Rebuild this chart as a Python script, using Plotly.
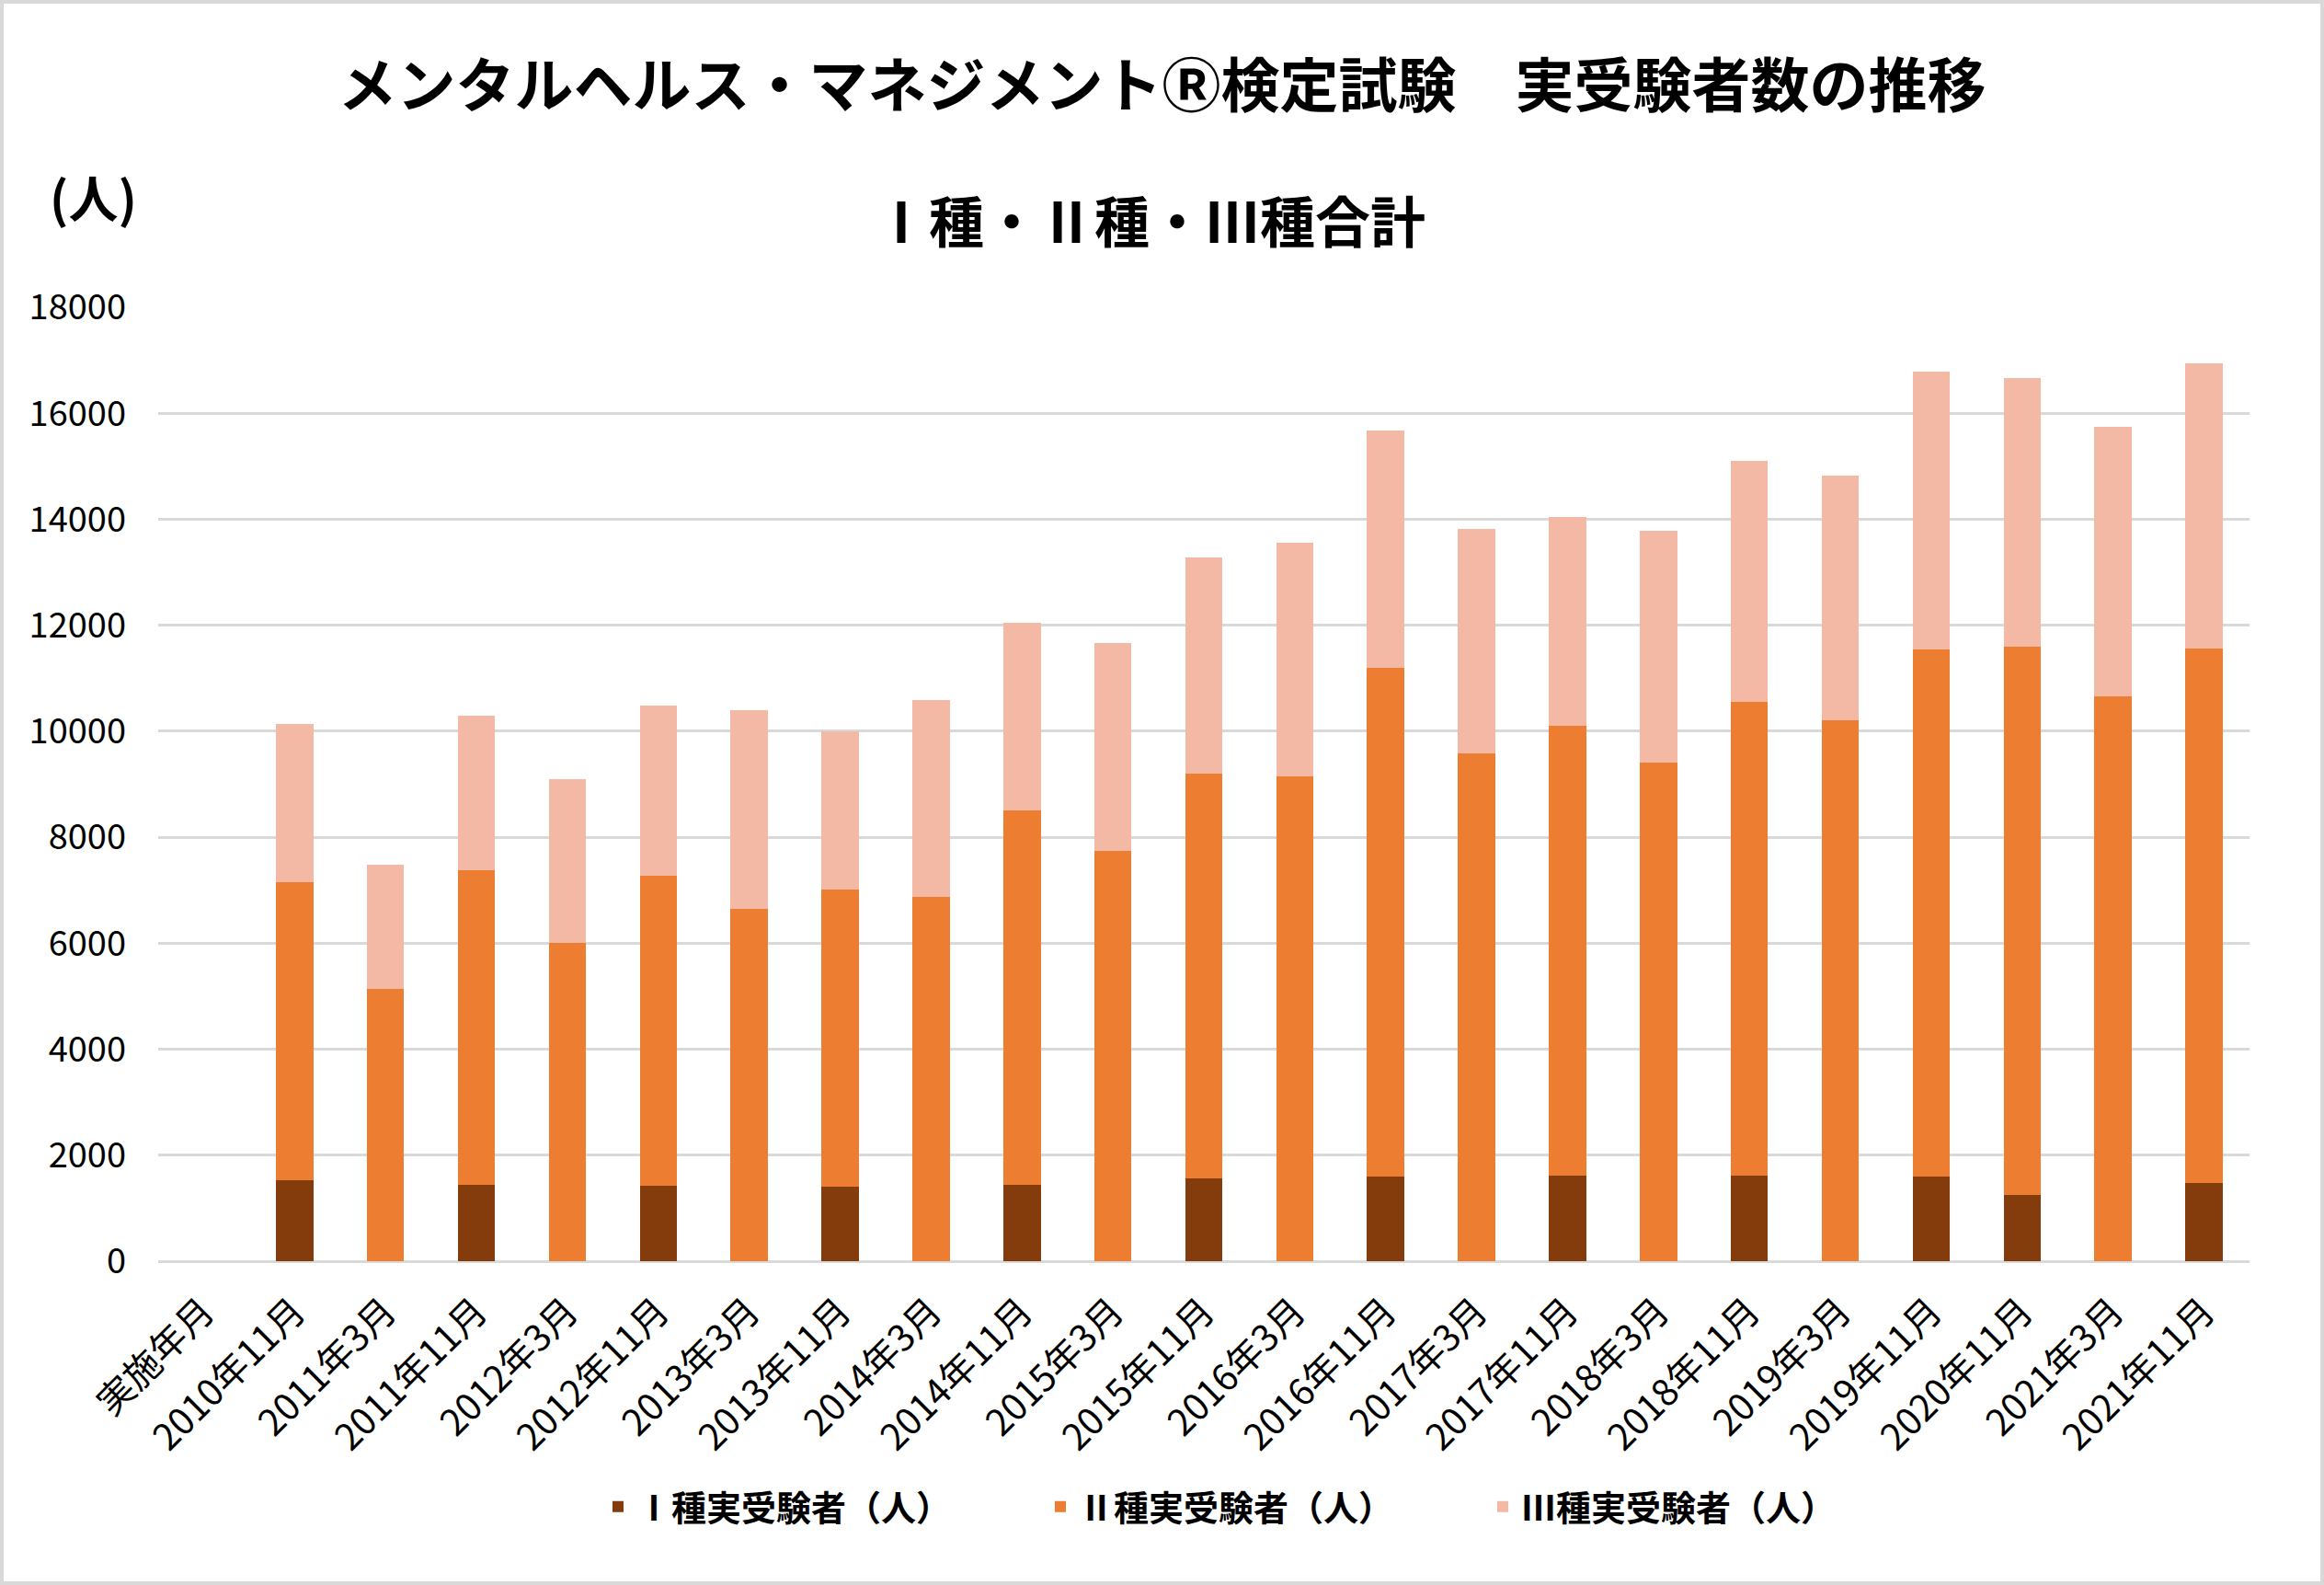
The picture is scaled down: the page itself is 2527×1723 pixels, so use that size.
import plotly.graph_objects as go

categories = ["実施年月", "2010年11月", "2011年3月", "2011年11月", "2012年3月", "2012年11月",
              "2013年3月", "2013年11月", "2014年3月", "2014年11月", "2015年3月", "2015年11月",
              "2016年3月", "2016年11月", "2017年3月", "2017年11月", "2018年3月", "2018年11月",
              "2019年3月", "2019年11月", "2020年11月", "2021年3月", "2021年11月"]

type1 = [None, 1520, None, 1448, None, 1424, None, 1400, None, 1448, None, 1556,
         None, 1592, None, 1616, None, 1616, None, 1592, 1245, None, 1484]
type2 = [None, 5637, 5135, 5937, 6008, 5853, 6655, 5614, 6870, 7062, 7744, 7636,
         9156, 9611, 9587, 8486, 9407, 8941, 10209, 9958, 10353, 10664, 10078]
type3 = [None, 2981, 2345, 2908, 3088, 3208, 3734, 2992, 3710, 3531, 3913, 4082,
         4405, 4464, 4225, 3949, 4369, 4536, 4608, 5242, 5063, 5075, 5374]

series_names = ["Ⅰ種実受験者（人）", "Ⅱ種実受験者（人）", "Ⅲ種実受験者（人）"]
series_colors = ["#843C0C", "#ED7D31", "#F4B9A5"]

yticks = [0, 2000, 4000, 6000, 8000, 10000, 12000, 14000, 16000, 18000]

FONT = "Noto Sans CJK JP"

fig = go.Figure()
for vals, name, col in zip([type1, type2, type3], series_names, series_colors):
    fig.add_trace(go.Bar(x=categories, y=vals, name=name, marker_color=col,
                         marker_line_width=0))

W, H = 2527, 1723
L, R, T, B = 172, 81, 334, 352
pw, ph = W - L - R, H - T - B

fig.update_layout(
    width=W, height=H,
    barmode="stack", bargap=0.59,
    paper_bgcolor="white", plot_bgcolor="white",
    margin=dict(l=L, r=R, t=T, b=B, autoexpand=False),
    font=dict(family=FONT, color="#000000", size=38),
    title=dict(text="<b>メンタルヘルス・マネジメントⓇ検定試験　実受験者数の推移</b>",
               x=0.5, xanchor="center", y=1 - 94 / H, yanchor="middle",
               font=dict(family=FONT, size=64, color="#000000")),
    showlegend=True,
    legend=dict(orientation="h", traceorder="normal",
                x=(652 - L) / pw, xanchor="left",
                y=(T + ph - 1638) / ph, yanchor="middle",
                font=dict(family=FONT, size=38, color="#000000", weight="bold"),
                entrywidth=436, entrywidthmode="pixels",
                bgcolor="rgba(0,0,0,0)"),
    xaxis=dict(type="category", tickangle=-45, showgrid=False, showline=False,
               ticks="", tickfont=dict(size=40, color="#000000"),
               ticklabelstandoff=22),
    yaxis=dict(range=[0, 18000], tickvals=yticks, ticktext=[str(v) for v in yticks],
               showgrid=True, gridcolor="#D9D9D9", gridwidth=3,
               zeroline=True, zerolinecolor="#D9D9D9", zerolinewidth=3,
               showline=False, ticks="", tickfont=dict(size=38, color="#000000"),
               ticklabelstandoff=34),
    annotations=[
        dict(text="<b>Ⅰ種・Ⅱ種・Ⅲ種合計</b>", xref="paper", yref="paper",
             x=(1250 - L) / pw, y=1 + (T - 237) / ph, xanchor="center", yanchor="middle",
             showarrow=False, font=dict(family=FONT, size=60, color="#000000")),
        dict(text="<b>(人)</b>", xref="paper", yref="paper",
             x=(101 - L) / pw, y=1 + (T - 213) / ph, xanchor="center", yanchor="middle",
             showarrow=False, font=dict(family=FONT, size=54, color="#000000")),
    ],
    shapes=[dict(type="rect", xref="paper", yref="paper",
                 x0=-(L - 2) / pw, x1=1 + (R - 2) / pw,
                 y0=-(B - 2) / ph, y1=1 + (T - 2) / ph,
                 line=dict(color="#D9D9D9", width=4), fillcolor="rgba(0,0,0,0)",
                 layer="below")],
)

fig.write_html("out.html")
